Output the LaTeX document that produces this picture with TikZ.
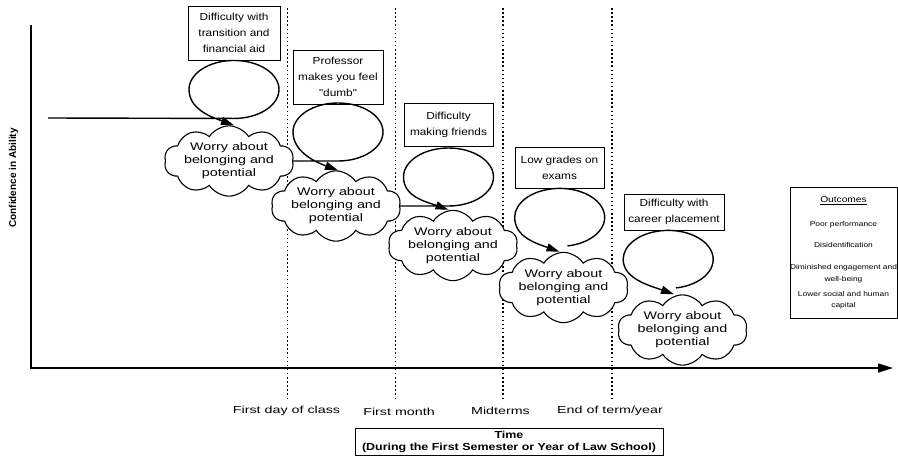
\documentclass[tikz,border=0pt]{standalone}
\usepackage{fontspec}
\setmainfont{Liberation Sans}
\newfontfamily\eventfont{Liberation Sans}[FakeStretch=1.16]
\newfontfamily\worryfont{Liberation Sans}[FakeStretch=1.3]
\newfontfamily\tickfont{Liberation Sans}[FakeStretch=1.4]
\newfontfamily\timefont{Liberation Sans}[FakeStretch=1.22]
\newfontfamily\outcomefont{Liberation Sans}[FakeStretch=1.2]
\usetikzlibrary{arrows.meta,shapes.symbols}
\tikzset{
  event box/.style={
    rectangle, draw, line width=0.9pt, fill=white, align=center,
    inner sep=0pt, font=\eventfont\fontsize{10.2}{16}\selectfont
  },
  worry cloud/.style={
    cloud, cloud puffs=10, cloud puff arc=115, cloud ignores aspect,
    draw, line width=1.1pt, fill=white, align=center, inner sep=0pt,
    minimum width=126pt, minimum height=53pt,
    font=\worryfont\fontsize{11}{13}\selectfont
  },
  loop arrow/.style={line width=1.4pt, -{Triangle[length=13pt,width=8pt]}},
  time mark/.style={line width=1.5pt, dash pattern=on 1.5pt off 2.6pt},
  tick label/.style={font=\tickfont\fontsize{10.2}{12}\selectfont},
  axis line/.style={line width=1.6pt}
}

\begin{document}
\begin{tikzpicture}[x=1pt, y=-1pt]
    \useasboundingbox (0,0) rectangle (898,456);
    \coordinate (ytop) at (31,25);
    \coordinate (origin) at (31,368);
    \coordinate (xend) at (893,368);
    \coordinate (start) at (48,118);

    \foreach \x in {287.5,395.5,503,612}
      \draw[time mark] (\x,8) -- (\x,401);
    \draw[axis line, -{Triangle[length=15pt,width=9pt]}] (ytop) -- (origin) -- (xend);
    \node[rotate=90, font=\bfseries\fontsize{10}{12}\selectfont] (confidence) at (13.5,178) {Confidence in Ability};

    \node[tick label] (firstday) at (286.5,411) {First day of class};
    \node[tick label] (firstmonth) at (399,412) {First month};
    \node[tick label] (midterms) at (500.5,411) {Midterms};
    \node[tick label] (endterm) at (610,411) {End of term/year};

    \node[event box, minimum width=92pt, minimum height=54pt] (transition) at (234,33) {Difficulty with\\transition and\\financial aid};
    \node[event box, minimum width=90pt, minimum height=54pt] (professor) at (338,77) {Professor\\makes you feel\\"dumb"};
    \node[event box, minimum width=89pt, minimum height=43pt] (friends) at (448.5,124.5) {Difficulty\\making friends};
    \node[event box, minimum width=89pt, minimum height=41pt] (grades) at (559.5,167.5) {Low grades on\\exams};
    \node[event box, minimum width=100pt, minimum height=36pt] (career) at (674,212) {Difficulty with\\career placement};

    \node[worry cloud] (worry1) at (229,161) {Worry about\\belonging and\\potential};
    \node[worry cloud] (worry2) at (336,206) {Worry about\\belonging and\\potential};
    \node[worry cloud] (worry3) at (453,245.5) {Worry about\\belonging and\\potential};
    \node[worry cloud] (worry4) at (563.5,287.5) {Worry about\\belonging and\\potential};
    \node[worry cloud] (worry5) at (682.5,330) {Worry about\\belonging and\\potential};

    \draw[loop arrow] (start) -- ([yshift=-58pt]transition.south)
      arc[start angle=-90, end angle=180, x radius=45pt, y radius=29pt]
      .. controls +(0,20) and +(-22,-8) .. (worry1.north -| transition.south);
    \draw[loop arrow] (worry1.east) -- (worry1.east -| professor.south)
      arc[start angle=-90, end angle=180, x radius=45pt, y radius=29pt]
      .. controls +(0,20) and +(-22,-8) .. (worry2.north -| professor.south);
    \draw[loop arrow] (worry2.east) -- (worry2.east -| friends.south)
      arc[start angle=-90, end angle=180, x radius=45pt, y radius=29pt]
      .. controls +(0,20) and +(-22,-8) .. (worry3.north -| friends.south);
    \draw[loop arrow] ([xshift=8pt, yshift=-57.5pt]grades.south)
      arc[start angle=-80, end angle=180, x radius=45pt, y radius=29pt]
      .. controls +(0,20) and +(-22,-8) .. (worry4.north -| grades.south);
    \draw[loop arrow] ([xshift=2pt, yshift=-57.5pt]career.south)
      arc[start angle=-80, end angle=180, x radius=45pt, y radius=29pt]
      .. controls +(0,20) and +(-22,-8) .. (worry5.north -| career.south);

    \node[draw, line width=0.9pt, minimum width=107pt, minimum height=131pt, inner sep=0pt, align=center,
      font=\outcomefont\fontsize{7}{11}\selectfont] (outcomes) at (843.5,252.5)
      {{\fontsize{8.5}{11}\selectfont\underline{Outcomes}}\\[13pt]Poor performance\\[10pt]Disidentification\\[11pt]Diminished engagement and\\[1pt]well-being\\[4pt]Lower social and human\\capital};
    \node[draw, line width=0.9pt, minimum width=308pt, minimum height=27pt, inner sep=0pt, align=center,
      font=\timefont\bfseries\fontsize{10.2}{12}\selectfont] (period) at (509,441.5)
      {Time\\(During the First Semester or Year of Law School)};
\end{tikzpicture}
\end{document}
